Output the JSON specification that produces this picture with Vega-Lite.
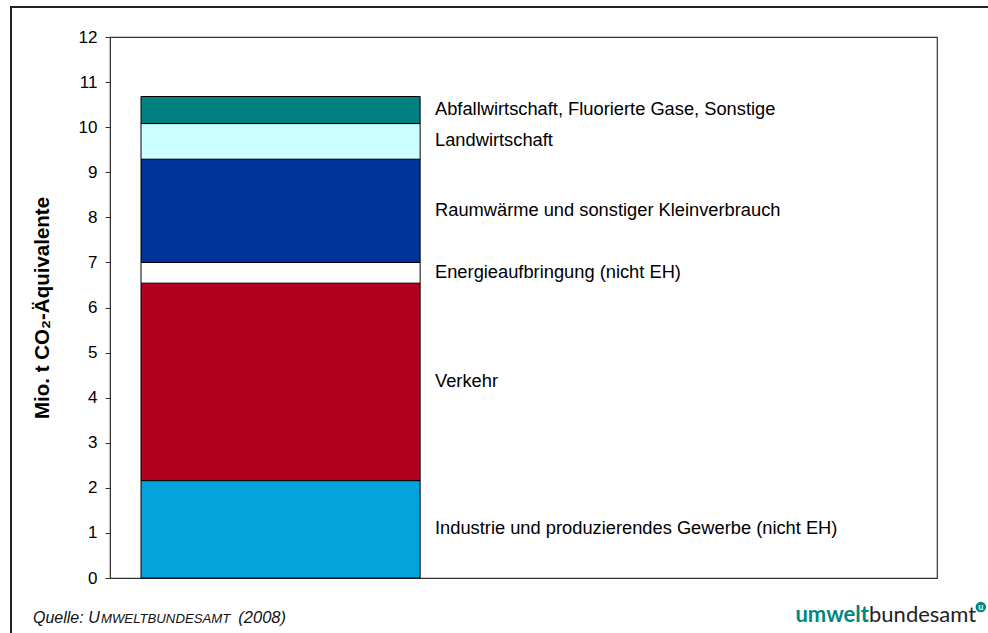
{
  "$schema": "https://vega.github.io/schema/vega-lite/v6.json",
  "width": 827,
  "height": 541,
  "autosize": {"type": "none"},
  "padding": {"left": 110, "top": 37, "right": 51, "bottom": 55},
  "background": "white",
  "config": {
    "view": {"stroke": "#333333", "strokeWidth": 1.2},
    "font": "Liberation Sans"
  },
  "data": {
    "values": [
      {"kategorie": "Industrie und produzierendes Gewerbe (nicht EH)", "wert": 2.16, "rang": 1},
      {"kategorie": "Verkehr", "wert": 4.38, "rang": 2},
      {"kategorie": "Energieaufbringung (nicht EH)", "wert": 0.46, "rang": 3},
      {"kategorie": "Raumwärme und sonstiger Kleinverbrauch", "wert": 2.29, "rang": 4},
      {"kategorie": "Landwirtschaft", "wert": 0.79, "rang": 5},
      {"kategorie": "Abfallwirtschaft, Fluorierte Gase, Sonstige", "wert": 0.60, "rang": 6}
    ]
  },
  "layer": [
    {
      "transform": [
        {"stack": "wert", "groupby": [], "sort": [{"field": "rang", "order": "ascending"}], "as": ["y0", "y1"]}
      ],
      "mark": {"type": "rect", "stroke": "black", "strokeWidth": 1},
      "encoding": {
        "x": {"datum": 0.0375, "type": "quantitative", "scale": {"domain": [0, 1], "nice": false, "zero": false}, "axis": null},
        "x2": {"datum": 0.375},
        "y": {
          "field": "y0", "type": "quantitative",
          "scale": {"domain": [0, 12], "nice": false},
          "axis": {
            "title": "Mio. t CO₂-Äquivalente",
            "titleFont": "Liberation Sans",
            "titleFontSize": 20.5,
            "titleFontWeight": "bold",
            "titleColor": "black",
            "titlePadding": 26,
            "values": [0, 1, 2, 3, 4, 5, 6, 7, 8, 9, 10, 11, 12],
            "format": "d",
            "labelFont": "Liberation Sans",
            "labelFontSize": 17,
            "labelColor": "black",
            "labelPadding": 8,
            "tickSize": 5,
            "tickColor": "#333333",
            "domainColor": "#333333",
            "grid": false
          }
        },
        "y2": {"field": "y1"},
        "color": {
          "field": "kategorie", "type": "nominal", "legend": null,
          "scale": {
            "domain": ["Industrie und produzierendes Gewerbe (nicht EH)", "Verkehr", "Energieaufbringung (nicht EH)", "Raumwärme und sonstiger Kleinverbrauch", "Landwirtschaft", "Abfallwirtschaft, Fluorierte Gase, Sonstige"],
            "range": ["#03A4DB", "#B2001E", "#FFFFFF", "#003399", "#CCFFFF", "#008080"]
          }
        }
      }
    },
    {
      "transform": [
        {"stack": "wert", "groupby": [], "sort": [{"field": "rang", "order": "ascending"}], "as": ["y0", "y1"]},
        {"calculate": "(datum.y0 + datum.y1) / 2", "as": "ymid"}
      ],
      "mark": {"type": "text", "align": "left", "baseline": "middle", "font": "Liberation Sans", "fontSize": 18.3, "color": "black"},
      "encoding": {
        "x": {"datum": 0.393, "type": "quantitative"},
        "y": {"field": "ymid", "type": "quantitative"},
        "text": {"field": "kategorie"}
      }
    },
    {
      "data": {"values": [{}]},
      "mark": {"type": "rect", "fill": null, "fillOpacity": 0, "stroke": "#222222", "strokeWidth": 2},
      "encoding": {
        "x": {"datum": -0.1197, "type": "quantitative"},
        "x2": {"datum": 1.2},
        "y": {"datum": 12.666, "type": "quantitative"},
        "y2": {"datum": -2}
      }
    },
    {
      "data": {"values": [{}]},
      "mark": {"type": "text", "align": "left", "baseline": "alphabetic", "font": "Liberation Sans", "fontStyle": "italic", "fontSize": 16, "color": "#111111"},
      "encoding": {
        "x": {"datum": -0.0931, "type": "quantitative"},
        "y": {"datum": -0.998, "type": "quantitative"},
        "text": {"datum": "Quelle: U"}
      }
    },
    {
      "data": {"values": [{}]},
      "mark": {"type": "text", "align": "left", "baseline": "alphabetic", "font": "Liberation Sans", "fontStyle": "italic", "fontSize": 13.2, "color": "#111111"},
      "encoding": {
        "x": {"datum": -0.0110, "type": "quantitative"},
        "y": {"datum": -0.998, "type": "quantitative"},
        "text": {"datum": "MWELTBUNDESAMT"}
      }
    },
    {
      "data": {"values": [{}]},
      "mark": {"type": "text", "align": "right", "baseline": "alphabetic", "font": "Liberation Sans", "fontStyle": "italic", "fontSize": 16.5, "color": "#111111"},
      "encoding": {
        "x": {"datum": 0.2128, "type": "quantitative"},
        "y": {"datum": -0.998, "type": "quantitative"},
        "text": {"datum": "(2008)"}
      }
    },
    {
      "data": {"values": [{}]},
      "mark": {"type": "text", "align": "right", "baseline": "alphabetic", "font": "Lato", "fontWeight": "bold", "fontSize": 22, "color": "#00877F"},
      "encoding": {
        "x": {"datum": 0.9178, "type": "quantitative"},
        "y": {"datum": -0.976, "type": "quantitative"},
        "text": {"datum": "umwelt"}
      }
    },
    {
      "data": {"values": [{}]},
      "mark": {"type": "text", "align": "left", "baseline": "alphabetic", "font": "Lato", "fontSize": 22, "color": "#222222"},
      "encoding": {
        "x": {"datum": 0.9178, "type": "quantitative"},
        "y": {"datum": -0.976, "type": "quantitative"},
        "text": {"datum": "bundesamt"}
      }
    },
    {
      "data": {"values": [{}]},
      "mark": {"type": "point", "filled": true, "shape": "circle", "size": 110, "color": "#00877F", "opacity": 1},
      "encoding": {
        "x": {"datum": 1.053, "type": "quantitative"},
        "y": {"datum": -0.643, "type": "quantitative"}
      }
    },
    {
      "data": {"values": [{}]},
      "mark": {"type": "text", "align": "center", "baseline": "middle", "font": "Lato", "fontWeight": "bold", "fontSize": 9, "color": "white"},
      "encoding": {
        "x": {"datum": 1.053, "type": "quantitative"},
        "y": {"datum": -0.643, "type": "quantitative"},
        "text": {"datum": "u"}
      }
    }
  ]
}
